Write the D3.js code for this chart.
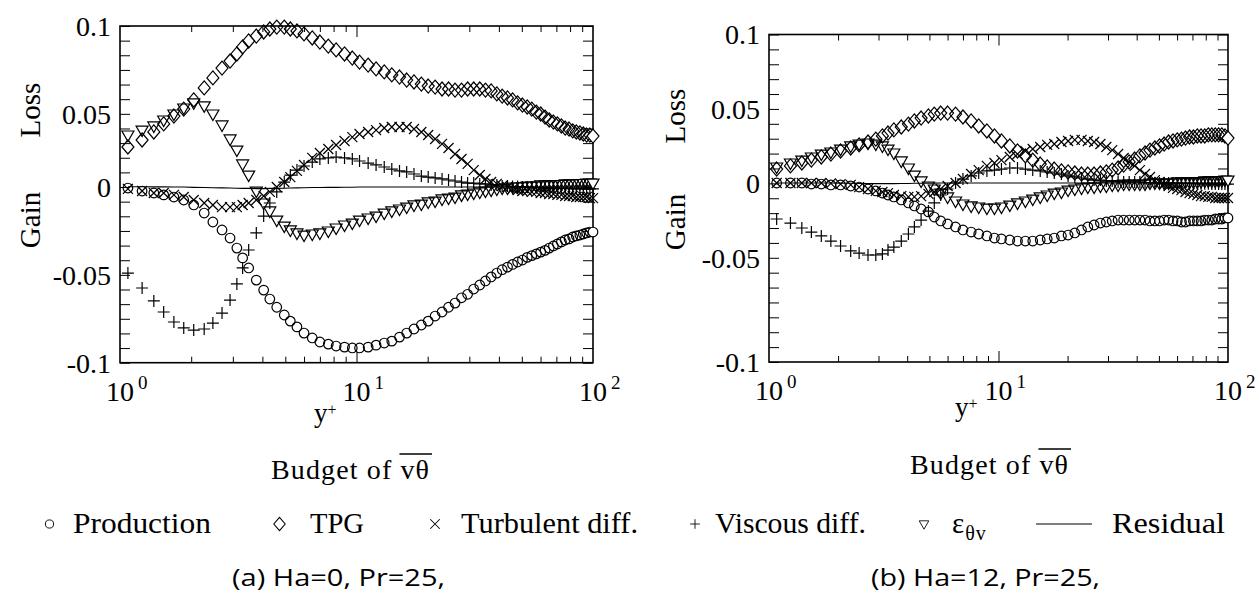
<!DOCTYPE html>
<html>
<head>
<meta charset="utf-8">
<script src="https://cdn.jsdelivr.net/npm/d3@7"></script>
<style>
  body { margin: 0; background: #fff; }
  svg { display: block; }
  text { fill: #000; }
</style>
</head>
<body>
<div id="chart"></div>
<script>
// y+ stations shared by every series
const yPlus = [1.08, 1.24, 1.39, 1.53, 1.69, 1.86, 2.05, 2.27, 2.47, 2.7, 2.92, 3.12,
    3.3, 3.5, 3.77, 4.05, 4.3, 4.6, 4.95, 5.25, 5.6, 6.0, 6.5, 7.0,
    7.6, 8.2, 8.9, 9.6, 10.3, 11.2, 12.1, 13.1, 14.1, 15.2, 16.3, 17.5,
    18.8, 20.1, 21.5, 23, 24.5, 26.1, 27.8, 29.5, 31.3, 33.2, 35.1, 37.1,
    39.2, 41.3, 43.5, 45.7, 48, 50.3, 52.7, 55.1, 57.6, 60.1, 62.7, 65.3,
    68, 70.7, 73.5, 76.3, 79.2, 82.1, 85, 88, 91, 94, 97, 100];

// (a) Ha=0, Pr=25
const productionA = [-0.0006, -0.0023, -0.0034, -0.0045, -0.0057, -0.0074, -0.0102, -0.0148, -0.0199, -0.0244, -0.029, -0.0347,
    -0.0403, -0.046, -0.0529, -0.0586, -0.0637, -0.0684, -0.0728, -0.0763, -0.0796, -0.0831, -0.0859, -0.0882,
    -0.0894, -0.0905, -0.0911, -0.0916, -0.0916, -0.0911, -0.09, -0.0888, -0.0877, -0.0854, -0.0831, -0.0808,
    -0.0785, -0.0763, -0.0734, -0.0711, -0.0684, -0.066, -0.063, -0.061, -0.058, -0.0557, -0.0534, -0.0511,
    -0.0489, -0.047, -0.0455, -0.044, -0.0426, -0.0415, -0.040, -0.039, -0.038, -0.037, -0.036, -0.0347,
    -0.0335, -0.0324, -0.0312, -0.0301, -0.0295, -0.0284, -0.0278, -0.0273, -0.0267, -0.0261, -0.0256, -0.0256];
const tpgA = [0.0274, 0.0322, 0.0377, 0.0432, 0.0486, 0.0528, 0.058, 0.0648, 0.0705, 0.0761, 0.0801, 0.0841,
    0.0881, 0.0915, 0.0943, 0.0966, 0.0983, 0.0994, 0.0994, 0.0983, 0.0972, 0.0955, 0.0932, 0.0909,
    0.0886, 0.0864, 0.0841, 0.0818, 0.0795, 0.0778, 0.0756, 0.0739, 0.0722, 0.071, 0.0693, 0.0682,
    0.067, 0.0659, 0.0653, 0.0642, 0.0642, 0.0636, 0.0636, 0.0642, 0.0642, 0.0642, 0.0636, 0.0631,
    0.0614, 0.0602, 0.0591, 0.058, 0.0563, 0.0551, 0.054, 0.0528, 0.0511, 0.05, 0.0479, 0.0459,
    0.0445, 0.0432, 0.0418, 0.0404, 0.0397, 0.0384, 0.0377, 0.037, 0.0363, 0.0356, 0.0356, 0.0349];
const turbulentA = [-0.0011, -0.0023, -0.0034, -0.0034, -0.0045, -0.0057, -0.0074, -0.0091, -0.0102, -0.0114, -0.0114, -0.0114,
    -0.0102, -0.0091, -0.0074, -0.0051, -0.0028, 0, 0.0034, 0.0068, 0.011, 0.0151, 0.0199, 0.0233,
    0.026, 0.0288, 0.0315, 0.0342, 0.0363, 0.0377, 0.039, 0.0404, 0.0411, 0.0411, 0.0411, 0.0397,
    0.0377, 0.0356, 0.0329, 0.0295, 0.0267, 0.0226, 0.0192, 0.0158, 0.0116, 0.0082, 0.0055, 0.0034,
    0.0021, 0.0007, 0, -0.0011, -0.0017, -0.0023, -0.0023, -0.0028, -0.0028, -0.0034, -0.0034, -0.004,
    -0.004, -0.0045, -0.0045, -0.0051, -0.0051, -0.0051, -0.0057, -0.0057, -0.0057, -0.0057, -0.0063, -0.0063];
const viscousA = [-0.0489, -0.0574, -0.0648, -0.0711, -0.0768, -0.0802, -0.0814, -0.0808, -0.0774, -0.0717, -0.0643, -0.0551,
    -0.046, -0.0358, -0.0261, -0.0165, -0.0091, -0.0028, 0.0034, 0.0082, 0.0116, 0.0144, 0.0171, 0.0192,
    0.0199, 0.0205, 0.0199, 0.0192, 0.0178, 0.0164, 0.0151, 0.0137, 0.0123, 0.011, 0.0103, 0.0089,
    0.0075, 0.0068, 0.0062, 0.0055, 0.0048, 0.0041, 0.0034, 0.0027, 0.0027, 0.0021, 0.0021, 0.0014,
    0.0014, 0.0007, 0.0007, 0.0003, 0.0003, 0, 0, 0, -0.0003, -0.0003, -0.0003, -0.0006,
    -0.0006, -0.0006, -0.0008, -0.0008, -0.0008, -0.001, -0.001, -0.001, -0.001, -0.0011, -0.0011, -0.0011];
const epsilonA = [0.0356, 0.039, 0.0418, 0.0459, 0.05, 0.0534, 0.0563, 0.0546, 0.05, 0.0425, 0.0329, 0.0253,
    0.0158, 0.0082, -0.0023, -0.0091, -0.0136, -0.0188, -0.0222, -0.0244, -0.0261, -0.0273, -0.0267, -0.0261,
    -0.025, -0.0233, -0.0216, -0.0205, -0.0188, -0.0176, -0.0165, -0.0148, -0.0136, -0.0125, -0.0114, -0.0102,
    -0.0097, -0.0085, -0.008, -0.0068, -0.0063, -0.0057, -0.0045, -0.004, -0.0034, -0.0028, -0.0023, -0.0017,
    -0.0011, -0.0006, -0.0006, 0, 0, 0.0003, 0.0007, 0.0007, 0.0007, 0.0014, 0.0014, 0.0014,
    0.0014, 0.0017, 0.0017, 0.0021, 0.0021, 0.0021, 0.0024, 0.0024, 0.0024, 0.0027, 0.0027, 0.0027];
const residualA = [0.0002, 0.0002, 0.0001, 0.0001, 0, 0, -0.0002, -0.0003, -0.0004, -0.0005, -0.0006, -0.0007,
    -0.0008, -0.0008, -0.0009, -0.0009, -0.0008, -0.0008, -0.0007, -0.0006, -0.0005, -0.0004, -0.0003, -0.0003,
    -0.0002, -0.0002, -0.0001, -0.0001, 0, 0, 0, 0, 0, 0, 0, 0,
    0, 0, 0, 0, 0, 0, 0, 0, 0, 0, 0, 0,
    0, 0, 0, 0, 0, 0, 0, 0, 0, 0, 0, 0,
    0, 0, 0, 0, 0, 0, 0, 0, 0, 0, 0, 0];

// (b) Ha=12, Pr=25
const productionB = [0, 0, 0, -0.0007, -0.0007, -0.0013, -0.0013, -0.002, -0.0027, -0.004, -0.0053, -0.0067,
    -0.008, -0.0093, -0.0113, -0.0133, -0.0153, -0.0173, -0.0193, -0.0227, -0.0253, -0.0273, -0.0293, -0.0313,
    -0.0327, -0.034, -0.0353, -0.0367, -0.0373, -0.038, -0.0387, -0.0387, -0.0387, -0.038, -0.0373, -0.0367,
    -0.0353, -0.0347, -0.0333, -0.0313, -0.0293, -0.028, -0.0267, -0.026, -0.0253, -0.0247, -0.0247, -0.0247,
    -0.0247, -0.0247, -0.0247, -0.0253, -0.0253, -0.0253, -0.0247, -0.0247, -0.0253, -0.0253, -0.026, -0.026,
    -0.0253, -0.0253, -0.0253, -0.0253, -0.0247, -0.0247, -0.0247, -0.024, -0.024, -0.024, -0.0233, -0.0233];
const tpgB = [0.0095, 0.0116, 0.0136, 0.0156, 0.0177, 0.0197, 0.0218, 0.0238, 0.0259, 0.0279, 0.0299, 0.032,
    0.034, 0.0361, 0.0381, 0.0401, 0.0422, 0.0442, 0.0456, 0.0469, 0.0476, 0.0476, 0.0469, 0.0449,
    0.0422, 0.0388, 0.0354, 0.032, 0.0286, 0.0252, 0.0218, 0.0184, 0.0156, 0.0129, 0.0109, 0.0095,
    0.0082, 0.0075, 0.0068, 0.0061, 0.0061, 0.0061, 0.0068, 0.0075, 0.0088, 0.0102, 0.0122, 0.0143,
    0.0163, 0.0184, 0.0204, 0.0224, 0.0238, 0.0252, 0.0265, 0.0279, 0.0286, 0.0293, 0.0299, 0.0306,
    0.0313, 0.0313, 0.032, 0.032, 0.032, 0.0327, 0.0327, 0.0327, 0.0327, 0.0327, 0.032, 0.0306];
const turbulentB = [0, 0, 0, 0, 0, -0.0003, -0.0007, -0.0013, -0.0027, -0.004, -0.0053, -0.006,
    -0.0067, -0.008, -0.0087, -0.0093, -0.0093, -0.0087, -0.0073, -0.006, -0.004, -0.002, 0, 0.0027,
    0.0061, 0.0088, 0.0116, 0.0136, 0.0156, 0.0177, 0.0197, 0.0218, 0.0231, 0.0245, 0.0259, 0.0265,
    0.0279, 0.0286, 0.0293, 0.0293, 0.0286, 0.0279, 0.0265, 0.0245, 0.0224, 0.0197, 0.017, 0.0143,
    0.0116, 0.0088, 0.0061, 0.0041, 0.002, 0.0007, -0.0007, -0.002, -0.0033, -0.004, -0.0047, -0.006,
    -0.0067, -0.0073, -0.008, -0.0087, -0.0087, -0.0093, -0.0093, -0.01, -0.01, -0.01, -0.01, -0.01];
const viscousB = [-0.024, -0.0267, -0.03, -0.0327, -0.0353, -0.0387, -0.042, -0.0453, -0.0467, -0.048, -0.048, -0.0473,
    -0.0447, -0.0427, -0.0387, -0.034, -0.0293, -0.0247, -0.0187, -0.0133, -0.008, -0.004, 0, 0.0027,
    0.0048, 0.0068, 0.0082, 0.0088, 0.0095, 0.0102, 0.0102, 0.0095, 0.0088, 0.0082, 0.0075, 0.0068,
    0.0061, 0.0048, 0.0041, 0.0034, 0.0027, 0.002, 0.002, 0.0014, 0.0014, 0.0007, 0.0007, 0.0007,
    0.0007, 0.0007, 0.0003, 0.0003, 0, 0, 0, 0, 0, 0, -0.0003, -0.0003,
    -0.0003, -0.0003, -0.0005, -0.0005, -0.0005, -0.0005, -0.0007, -0.0007, -0.0007, -0.0007, -0.0007, -0.0007];
const epsilonB = [0.0109, 0.0136, 0.0156, 0.0177, 0.0197, 0.0211, 0.0231, 0.0252, 0.0265, 0.0272, 0.0265, 0.0252,
    0.0231, 0.0204, 0.015, 0.0102, 0.0054, 0.0014, -0.002, -0.004, -0.0067, -0.0093, -0.012, -0.014,
    -0.0153, -0.016, -0.0167, -0.0167, -0.016, -0.0147, -0.0133, -0.012, -0.0107, -0.0093, -0.008, -0.0067,
    -0.006, -0.0047, -0.004, -0.0033, -0.0027, -0.0027, -0.002, -0.002, -0.0013, -0.0013, -0.0007, -0.0007,
    -0.0007, -0.0007, -0.0007, 0, 0, 0, 0, 0, 0, 0.0007, 0.0007, 0.0007,
    0.0007, 0.0007, 0.0007, 0.001, 0.0014, 0.0014, 0.0014, 0.0014, 0.0014, 0.0017, 0.002, 0.002];
const residualB = [0, 0, 0, 0, 0, 0, -0.0001, -0.0002, -0.0003, -0.0003, -0.0004, -0.0004,
    -0.0004, -0.0004, -0.0003, -0.0003, -0.0002, -0.0002, -0.0001, -0.0001, 0, 0, 0, 0,
    0, 0, 0, 0, 0, 0, 0, 0, 0, 0, 0, 0,
    0, 0, 0, 0, 0, 0, 0, 0, 0, 0, 0, 0,
    0, 0, 0, 0, 0, 0, 0, 0, 0, 0, 0, 0,
    0, 0, 0, 0, 0, 0, 0, 0, 0, 0, 0, 0];

const yTickValues = [0.1, 0.05, 0, -0.05, -0.1];
const yTickLabels = ["0.1", "0.05", "0", "-0.05", "-0.1"];
const xDecades = [0, 1, 2];
const xMinorTicks = [2, 3, 4, 5, 6, 7, 8, 9, 20, 30, 40, 50, 60, 70, 80, 90];
const legendLabels = ["Production", "TPG", "Turbulent diff.", "Viscous diff.", "ε", "Residual"];
const captions = ["(a) Ha=0, Pr=25,", "(b) Ha=12, Pr=25,"];

const width = 1259, height = 594;
const serif = "'Liberation Serif', 'DejaVu Serif', serif";
const sans = "'Open Sans', 'Liberation Sans', sans-serif";

const svg = d3.select("#chart").append("svg")
    .attr("width", width)
    .attr("height", height);
svg.append("rect").attr("width", width).attr("height", height).attr("fill", "#fff");

// marker outlines
const shapes = {
    circle: "M4.8,0A4.8,4.8 0 1,1 -4.8,0A4.8,4.8 0 1,1 4.8,0Z",
    diamond: "M0,-7L6,0L0,7L-6,0Z",
    times: "M-5,-5L5,5M-5,5L5,-5",
    plus: "M-6,0H6M0,-6V6",
    tri: "M-6,-4L6,-4L0,6.5Z"
};
const seriesShapes = ["circle", "diamond", "times", "plus", "tri"];

const panels = [
    {
        left: 120, right: 593, yPos: [362.7, 275, 187, 114, 26], minorSteps: 23,
        series: [productionA, tpgA, turbulentA, viscousA, epsilonA], residual: residualA,
        sideX: 40, lossY: 110, gainY: 220, yLabel: [314, 422], title: [350, 479],
        caption: [232, 586, 213]
    },
    {
        left: 769, right: 1228, yPos: [362, 258, 183, 109.5, 34.5], minorSteps: 22,
        series: [productionB, tpgB, turbulentB, viscousB, epsilonB], residual: residualB,
        sideX: 685, lossY: 116, gainY: 222, yLabel: [955, 416], title: [989, 474],
        caption: [871, 586, 229]
    }
];

let drawPanel = (p, pi) => {
    const top = p.yPos[4], bottom = p.yPos[0];
    const x = d3.scaleLog().domain([1, 100]).range([p.left, p.right]);
    // tick labels sit at uneven spacing in the figure, so the scale is piecewise
    const y = d3.scaleLinear().domain([-0.1, -0.05, 0, 0.05, 0.1]).range(p.yPos);
    const g = svg.append("g");

    // inward ticks on all four sides
    const yMinor = d3.range(p.minorSteps + 1).map(i => y.invert(top + i * (bottom - top) / p.minorSteps));
    const tickAxis = (axis, tx, ty) => g.append("g")
        .attr("transform", `translate(${tx},${ty})`)
        .call(axis.tickFormat("").tickSizeOuter(0))
        .call(a => a.select(".domain").remove())
        .call(a => a.selectAll("line").attr("stroke", "#000"));
    tickAxis(d3.axisLeft(y).tickValues(yMinor).tickSizeInner(-10), p.left, 0);
    tickAxis(d3.axisRight(y).tickValues(yMinor).tickSizeInner(-10), p.right, 0);
    tickAxis(d3.axisBottom(x).tickValues(xMinorTicks).tickSizeInner(-6), 0, bottom);
    tickAxis(d3.axisTop(x).tickValues(xMinorTicks).tickSizeInner(-6), 0, top);
    tickAxis(d3.axisBottom(x).tickValues([10]).tickSizeInner(-11), 0, bottom);
    tickAxis(d3.axisTop(x).tickValues([10]).tickSizeInner(-11), 0, top);

    g.append("rect")
        .attr("x", p.left).attr("y", top)
        .attr("width", p.right - p.left).attr("height", bottom - top)
        .attr("fill", "none").attr("stroke", "#000").attr("stroke-width", 1.6);

    // residual line
    g.append("path")
        .datum(yPlus.map((t, i) => [t, p.residual[i]]))
        .attr("d", d3.line().x(d => x(d[0])).y(d => y(d[1])))
        .attr("fill", "none").attr("stroke", "#000").attr("stroke-width", 1.1);

    // markers
    p.series.forEach((vals, si) => {
        const pts = yPlus.map((t, i) => [t, vals[i]]);
        g.append("g").selectAll("path")
            .data(pts)
            .join("path")
            .attr("transform", d => `translate(${x(d[0])},${y(d[1])})`)
            .attr("d", shapes[seriesShapes[si]])
            .attr("fill", (d, i) => i === pts.length - 1 ? "#fff" : "none")
            .attr("stroke", "#000")
            .attr("stroke-width", 1.2);
    });

    // y tick labels
    g.append("g").selectAll("text")
        .data(yTickValues)
        .join("text")
        .attr("x", p.left - 9)
        .attr("y", d => y(d))
        .attr("dy", "0.35em")
        .attr("text-anchor", "end")
        .attr("font-family", serif)
        .attr("font-size", 28)
        .text((d, i) => yTickLabels[i]);

    // x tick labels 10^k
    const xl = g.append("g").selectAll("text")
        .data(xDecades)
        .join("text")
        .attr("x", d => x(Math.pow(10, d)) - 14)
        .attr("y", bottom + 38)
        .attr("font-family", serif)
        .attr("font-size", 28);
    xl.append("tspan").text("10");
    xl.append("tspan").attr("dx", 4).attr("dy", -12).attr("font-size", 19).text(d => d);

    // y+ label
    const yl = g.append("text")
        .attr("x", p.yLabel[0]).attr("y", p.yLabel[1])
        .attr("font-family", serif).attr("font-size", 27);
    yl.append("tspan").text("y");
    yl.append("tspan").attr("dy", -7).attr("font-size", 16).text("+");

    // Loss / Gain
    [["Loss", p.lossY], ["Gain", p.gainY]].forEach(([t, cy]) => {
        g.append("text")
            .attr("transform", `translate(${p.sideX},${cy}) rotate(-90)`)
            .attr("text-anchor", "middle")
            .attr("font-family", serif)
            .attr("font-size", 29)
            .text(t);
    });

    // budget title with overline on v-theta
    const title = g.append("text")
        .attr("x", p.title[0]).attr("y", p.title[1])
        .attr("text-anchor", "middle")
        .attr("font-family", serif)
        .attr("font-size", 28)
        .attr("textLength", 158)
        .attr("lengthAdjust", "spacing")
        .text("Budget of vθ");
    const n = title.node();
    const a = n.getExtentOfChar(10), b = n.getExtentOfChar(11);
    g.append("line")
        .attr("x1", a.x - 1).attr("x2", b.x + b.width + 3)
        .attr("y1", p.title[1] - 25).attr("y2", p.title[1] - 25)
        .attr("stroke", "#000").attr("stroke-width", 1.3);

    // caption
    g.append("text")
        .attr("x", p.caption[0]).attr("y", p.caption[1])
        .attr("font-family", sans)
        .attr("font-size", 24)
        .attr("textLength", p.caption[2])
        .attr("lengthAdjust", "spacingAndGlyphs")
        .text(captions[pi]);
};

panels.forEach((p, pi) => drawPanel(p, pi));

// legend row
const legendItems = [
    { shape: "circle", sx: 49.5, tx: 73, tl: 138, k: 0.85 },
    { shape: "diamond", sx: 279.5, tx: 310, tl: 54, k: 0.95 },
    { shape: "times", sx: 435, tx: 461, tl: 177, k: 0.95 },
    { shape: "plus", sx: 695, tx: 715, tl: 151, k: 0.8 },
    { shape: "tri", sx: 924, tx: 952, tl: null, k: 0.8 },
    { shape: "line", sx: 1036, tx: 1112, tl: 113, k: 1 }
];
const legendY = 524, legendBase = 533;
const legend = svg.append("g");
legendItems.forEach((it, i) => {
    if (it.shape === "line") {
        legend.append("line")
            .attr("x1", it.sx).attr("x2", it.sx + 56)
            .attr("y1", legendY).attr("y2", legendY)
            .attr("stroke", "#000").attr("stroke-width", 1.2);
    } else {
        legend.append("path")
            .attr("transform", `translate(${it.sx},${legendY}) scale(${it.k})`)
            .attr("d", shapes[it.shape])
            .attr("fill", "none").attr("stroke", "#000").attr("stroke-width", 1.1);
    }
    const t = legend.append("text")
        .attr("x", it.tx).attr("y", legendBase)
        .attr("font-family", serif)
        .attr("font-size", 29);
    if (it.tl) {
        t.attr("textLength", it.tl).attr("lengthAdjust", "spacingAndGlyphs").text(legendLabels[i]);
    } else {
        t.append("tspan").text(legendLabels[i]);
        t.append("tspan").attr("dx", 1).attr("dy", 7).attr("font-size", 20)
            .attr("letter-spacing", 1).text("θv");
    }
});
</script>
</body>
</html>
